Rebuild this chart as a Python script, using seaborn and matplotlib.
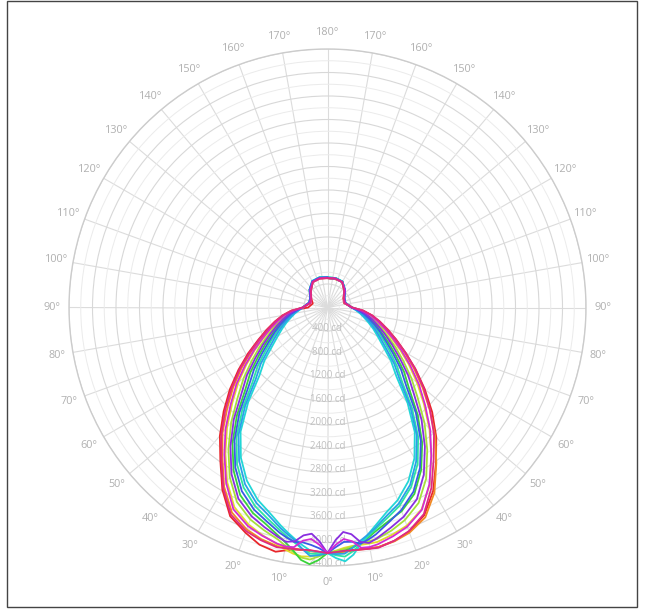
import numpy as np
import pandas as pd
import matplotlib
matplotlib.use("Agg")
import matplotlib.pyplot as plt
import seaborn as sns
from matplotlib.ticker import MultipleLocator
from matplotlib.patches import Rectangle

# ---------------- data ----------------
GAMMA = [0, 2, 4, 6, 8, 10, 12, 16, 20, 25, 30, 35, 40, 45, 50, 55, 60, 65, 70, 75, 80, 85, 90,
         105, 120, 135, 150, 165, 180]

PLANES = ["C0", "C15", "C30", "C45", "C60", "C75", "C90", "C105", "C120", "C135", "C150", "C165"]
COLORS = ["#e8262b", "#f08a24", "#e2dc2a", "#a6e03a", "#3ad43a", "#2ee6a0",
          "#22d6d6", "#2aa0e8", "#3a5ae6", "#8a2ee0", "#d42ad4", "#e02a80"]

# left half = C+180 plane, right half = C plane (cd)
c0_left = [4180, 4160, 4150, 4150, 4160, 4200, 4250, 4200, 4080, 3920, 3580, 3180, 2850, 2500, 2170, 1850, 1560, 1300, 1100, 930, 780, 620, 330, 260, 320, 400, 500, 510, 500]
c0_right = [4180, 4170, 4160, 4150, 4150, 4160, 4170, 4130, 4060, 3900, 3600, 3220, 2880, 2520, 2160, 1830, 1530, 1290, 1090, 920, 770, 610, 420, 290, 310, 410, 510, 500, 500]
c15_left = [4180, 4170, 4160, 4150, 4140, 4140, 4150, 4100, 4020, 3850, 3520, 3120, 2780, 2410, 2090, 1780, 1500, 1260, 1060, 900, 760, 610, 420, 310, 330, 410, 500, 520, 510]
c15_right = [4180, 4175, 4170, 4165, 4160, 4165, 4170, 4140, 4080, 3940, 3640, 3230, 2850, 2460, 2110, 1790, 1510, 1270, 1070, 900, 760, 600, 410, 300, 320, 400, 500, 510, 500]
c30_left = [4180, 4220, 4250, 4260, 4230, 4180, 4120, 4030, 3930, 3750, 3420, 3030, 2660, 2290, 1980, 1680, 1420, 1190, 1010, 860, 720, 580, 420, 310, 330, 420, 500, 510, 505]
c30_right = [4180, 4140, 4100, 4080, 4080, 4080, 4080, 4020, 3950, 3790, 3480, 3080, 2700, 2320, 1990, 1690, 1420, 1190, 1010, 860, 720, 580, 420, 300, 320, 410, 500, 500, 500]
c45_left = [4180, 4240, 4300, 4280, 4200, 4120, 4040, 3940, 3840, 3650, 3330, 2940, 2550, 2160, 1860, 1570, 1330, 1120, 960, 810, 690, 560, 420, 320, 330, 420, 510, 520, 510]
c45_right = [4180, 4150, 4120, 4090, 4060, 4040, 4030, 3950, 3850, 3670, 3360, 2960, 2570, 2170, 1860, 1570, 1330, 1120, 960, 810, 690, 560, 420, 310, 320, 410, 500, 510, 500]
c60_left = [4180, 4300, 4380, 4320, 4180, 4070, 3980, 3830, 3720, 3520, 3200, 2820, 2400, 1980, 1710, 1430, 1210, 1030, 880, 760, 650, 540, 420, 320, 340, 430, 510, 530, 520]
c60_right = [4180, 4170, 4150, 4110, 4050, 3980, 3900, 3780, 3690, 3500, 3190, 2810, 2390, 1970, 1700, 1420, 1200, 1020, 880, 760, 650, 540, 420, 310, 330, 420, 510, 520, 510]
c75_left = [4180, 4200, 4200, 4130, 4040, 3960, 3880, 3730, 3600, 3380, 3080, 2700, 2250, 1810, 1550, 1290, 1100, 940, 810, 700, 600, 510, 420, 320, 340, 430, 520, 530, 520]
c75_right = [4180, 4220, 4250, 4170, 4060, 3960, 3870, 3720, 3590, 3370, 3070, 2690, 2240, 1800, 1540, 1290, 1100, 940, 810, 700, 600, 510, 410, 310, 330, 420, 510, 520, 510]
c90_left = [4180, 4170, 4150, 4070, 3980, 3890, 3800, 3620, 3480, 3250, 2950, 2580, 2100, 1640, 1400, 1150, 980, 850, 740, 640, 560, 480, 420, 320, 340, 430, 520, 530, 520]
c90_right = [4180, 4270, 4330, 4230, 4060, 3930, 3820, 3630, 3490, 3260, 2960, 2590, 2120, 1660, 1410, 1160, 990, 860, 740, 640, 560, 480, 410, 320, 330, 420, 510, 520, 510]
c105_left = [4180, 4220, 4240, 4130, 4000, 3920, 3840, 3670, 3540, 3320, 3010, 2640, 2180, 1730, 1480, 1220, 1040, 900, 780, 670, 580, 490, 420, 320, 340, 430, 520, 530, 520]
c105_right = [4180, 4200, 4200, 4110, 4010, 3930, 3850, 3680, 3550, 3330, 3020, 2650, 2190, 1740, 1480, 1220, 1040, 900, 780, 670, 580, 490, 410, 310, 330, 420, 510, 520, 510]
c120_left = [4180, 4100, 4050, 4020, 4030, 3980, 3920, 3780, 3660, 3450, 3140, 2760, 2330, 1900, 1630, 1360, 1150, 990, 850, 730, 630, 520, 420, 320, 340, 430, 510, 520, 510]
c120_right = [4180, 4080, 4000, 4010, 4060, 4010, 3950, 3800, 3670, 3460, 3150, 2770, 2340, 1900, 1630, 1360, 1150, 990, 850, 730, 630, 520, 410, 310, 330, 420, 500, 510, 500]
c135_left = [4180, 3980, 3860, 3900, 4020, 4050, 4000, 3890, 3780, 3590, 3270, 2880, 2480, 2070, 1790, 1500, 1270, 1080, 920, 790, 670, 550, 420, 320, 330, 420, 510, 520, 510]
c135_right = [4180, 3960, 3830, 3880, 4030, 4070, 4020, 3900, 3790, 3600, 3280, 2890, 2490, 2080, 1790, 1500, 1270, 1080, 920, 790, 670, 550, 410, 310, 330, 420, 500, 510, 500]
c150_left = [4180, 4040, 3950, 3990, 4120, 4130, 4110, 4040, 3960, 3790, 3450, 3060, 2700, 2330, 2020, 1710, 1440, 1210, 1030, 870, 740, 590, 420, 300, 320, 410, 500, 510, 505]
c150_right = [4180, 4040, 3950, 4000, 4130, 4140, 4120, 4050, 3970, 3800, 3470, 3080, 2720, 2350, 2030, 1720, 1450, 1220, 1030, 870, 740, 590, 420, 300, 320, 410, 500, 510, 500]
c165_left = [4180, 4160, 4140, 4145, 4150, 4160, 4170, 4120, 4050, 3890, 3550, 3150, 2810, 2460, 2130, 1820, 1530, 1280, 1080, 920, 770, 610, 420, 300, 320, 400, 500, 510, 500]
c165_right = [4180, 4165, 4150, 4155, 4160, 4170, 4180, 4130, 4050, 3880, 3540, 3150, 2820, 2470, 2140, 1820, 1530, 1280, 1080, 920, 770, 610, 420, 300, 320, 400, 500, 510, 500]

LEFT = {"C0": c0_left, "C15": c15_left, "C30": c30_left, "C45": c45_left,
        "C60": c60_left, "C75": c75_left, "C90": c90_left, "C105": c105_left,
        "C120": c120_left, "C135": c135_left, "C150": c150_left, "C165": c165_left}
RIGHT = {"C0": c0_right, "C15": c15_right, "C30": c30_right, "C45": c45_right,
         "C60": c60_right, "C75": c75_right, "C90": c90_right, "C105": c105_right,
         "C120": c120_right, "C135": c135_right, "C150": c150_right, "C165": c165_right}

RING_LABELS = [400, 800, 1200, 1600, 2000, 2400, 2800, 3200, 3600, 4000, 4400]
ANGLE_TICKS = list(range(0, 360, 10))
ANGLE_LABELS = [f"{min(a, 360 - a)}°" for a in ANGLE_TICKS]
R_MAX = 4400

# ---------------- table ----------------
rows = []
for p in PLANES:
    for g, v in zip(GAMMA[::-1], LEFT[p][::-1]):
        rows.append((p, -np.deg2rad(g), v))
    for g, v in zip(GAMMA[1:], RIGHT[p][1:]):
        rows.append((p, np.deg2rad(g), v))
df = pd.DataFrame(rows, columns=["plane", "theta", "cd"])

# ---------------- plot ----------------
sns.set_style("white")
plt.rcParams["font.family"] = ["Open Sans", "DejaVu Sans"]

fig = plt.figure(figsize=(6.45, 6.11), dpi=100)
ax = fig.add_axes([69 / 645, 45 / 611, 517 / 645, 517 / 611], projection="polar")
ax.set_theta_zero_location("S")
ax.set_theta_direction(1)

sns.lineplot(data=df, x="theta", y="cd", hue="plane", hue_order=PLANES,
             palette=COLORS, sort=False, estimator=None, legend=False,
             ax=ax, lw=1.3, zorder=3)

ax.set_xlabel("")
ax.set_ylabel("")
ax.set_ylim(0, R_MAX)
ax.yaxis.set_major_locator(MultipleLocator(400))
ax.yaxis.set_minor_locator(MultipleLocator(200))
ax.set_yticklabels([])
ax.set_thetagrids(ANGLE_TICKS, ANGLE_LABELS)

ax.grid(True, which="major", axis="y", color="#d8d8d8", lw=0.8)
ax.grid(True, which="minor", axis="y", color="#ebebeb", lw=0.7)
ax.grid(True, which="major", axis="x", color="#dcdcdc", lw=0.8)
ax.tick_params(axis="x", pad=5, labelsize=7.8, labelcolor="#b0b0b0", length=0)
ax.tick_params(axis="y", which="both", length=0)
ax.spines["polar"].set_color("#cccccc")
ax.spines["polar"].set_linewidth(1.0)
ax.set_facecolor("white")

for r in RING_LABELS:
    ax.text(0, r - 40, f"{r} cd", ha="center", va="center", fontsize=7,
            color="#c0c0c0", zorder=2)

fig.patches.append(Rectangle((7 / 645, 4 / 611), 630 / 645, 606 / 611,
                             transform=fig.transFigure, fill=False,
                             edgecolor="#444444", lw=1.0))

fig.savefig("out.png", dpi=100, facecolor="white")
